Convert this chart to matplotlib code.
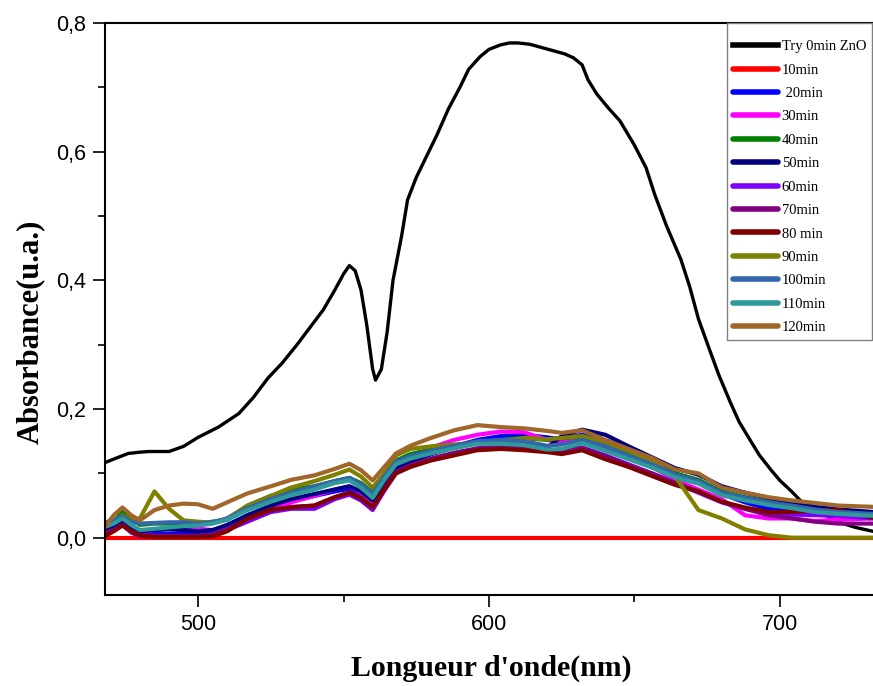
import matplotlib
matplotlib.use("Agg")
import matplotlib.pyplot as plt
from matplotlib.ticker import MultipleLocator, FuncFormatter

# ---------------- data ----------------
wl_black = [467, 472, 476, 480, 483, 487, 490, 495, 500, 507, 514, 519, 524, 529, 534, 539, 543,
            547, 550, 552, 554, 556, 558, 560, 561, 563, 565, 567, 570, 572, 575, 578, 582, 586,
            590, 593, 597, 600, 604, 607, 610, 614, 618, 622, 626, 629, 632, 634, 637, 641, 645,
            650, 654, 657, 661, 666, 669, 672, 676, 679, 683, 686, 690, 693, 697, 700, 704, 707,
            711, 714, 718, 721, 726, 732]
abs_black = [0.115, 0.124, 0.131, 0.133, 0.134, 0.134, 0.134, 0.142, 0.156, 0.172, 0.193, 0.218,
             0.248, 0.272, 0.300, 0.330, 0.354, 0.385, 0.410, 0.423, 0.415, 0.385, 0.330, 0.262,
             0.245, 0.262, 0.320, 0.400, 0.470, 0.525, 0.560, 0.588, 0.625, 0.666, 0.700, 0.728,
             0.748, 0.759, 0.766, 0.769, 0.769, 0.767, 0.762, 0.757, 0.752, 0.746, 0.735, 0.712,
             0.690, 0.668, 0.648, 0.610, 0.575, 0.533, 0.485, 0.432, 0.390, 0.340, 0.290, 0.253,
             0.210, 0.180, 0.150, 0.128, 0.105, 0.089, 0.072, 0.058, 0.046, 0.038, 0.030, 0.023,
             0.016, 0.010]

wl = [467, 471, 474, 477, 480, 485, 490, 495, 500, 505, 510, 517, 525, 532, 540, 547, 552, 556,
      560, 564, 568, 573, 580, 588, 596, 604, 612, 620, 625, 632, 640, 648, 656, 664, 672, 680,
      688, 696, 704, 712, 720, 732]

abs_10 = [0.0] * len(wl)
abs_20 = [0.010, 0.020, 0.028, 0.018, 0.008, 0.006, 0.006, 0.007, 0.008, 0.010, 0.018, 0.035,
          0.048, 0.058, 0.065, 0.072, 0.076, 0.068, 0.055, 0.085, 0.108, 0.118, 0.130, 0.142,
          0.152, 0.158, 0.160, 0.156, 0.153, 0.160, 0.148, 0.135, 0.120, 0.100, 0.088, 0.068,
          0.055, 0.045, 0.042, 0.040, 0.036, 0.033]
abs_30 = [0.008, 0.018, 0.025, 0.012, 0.008, 0.012, 0.015, 0.015, 0.014, 0.012, 0.015, 0.030,
          0.045, 0.055, 0.065, 0.075, 0.080, 0.070, 0.055, 0.090, 0.115, 0.125, 0.140, 0.152,
          0.160, 0.165, 0.164, 0.152, 0.148, 0.152, 0.140, 0.125, 0.110, 0.090, 0.075, 0.060,
          0.035, 0.030, 0.030, 0.026, 0.028, 0.030]
abs_40 = [0.012, 0.025, 0.040, 0.030, 0.020, 0.022, 0.022, 0.023, 0.022, 0.025, 0.028, 0.050,
          0.065, 0.075, 0.080, 0.088, 0.093, 0.085, 0.070, 0.100, 0.120, 0.130, 0.137, 0.143,
          0.148, 0.152, 0.155, 0.152, 0.155, 0.157, 0.145, 0.130, 0.115, 0.100, 0.090, 0.072,
          0.063, 0.056, 0.050, 0.046, 0.042, 0.038]
abs_50 = [0.012, 0.018, 0.025, 0.015, 0.010, 0.012, 0.013, 0.012, 0.010, 0.012, 0.020, 0.035,
          0.050, 0.060, 0.068, 0.075, 0.080, 0.072, 0.058, 0.085, 0.110, 0.120, 0.130, 0.140,
          0.148, 0.150, 0.148, 0.140, 0.158, 0.168, 0.160, 0.142, 0.125, 0.108, 0.098, 0.080,
          0.070, 0.062, 0.055, 0.048, 0.044, 0.040]
abs_60 = [0.005, 0.012, 0.020, 0.008, 0.002, 0.002, 0.002, 0.002, 0.002, 0.005, 0.012, 0.025,
          0.040, 0.045, 0.045, 0.060, 0.067, 0.058, 0.043, 0.073, 0.100, 0.112, 0.122, 0.130,
          0.138, 0.140, 0.140, 0.137, 0.135, 0.140, 0.128, 0.114, 0.100, 0.085, 0.070, 0.055,
          0.045, 0.038, 0.036, 0.035, 0.034, 0.030]
abs_70 = [0.006, 0.012, 0.020, 0.010, 0.004, 0.003, 0.003, 0.003, 0.003, 0.005, 0.013, 0.028,
          0.042, 0.048, 0.050, 0.063, 0.070, 0.060, 0.046, 0.076, 0.102, 0.113, 0.123, 0.132,
          0.139, 0.141, 0.140, 0.136, 0.134, 0.140, 0.127, 0.113, 0.100, 0.085, 0.072, 0.056,
          0.045, 0.035, 0.030, 0.025, 0.022, 0.022]
abs_80 = [0.000, 0.010, 0.019, 0.010, 0.003, 0.001, 0.001, 0.001, 0.001, 0.002, 0.010, 0.030,
          0.044, 0.047, 0.050, 0.063, 0.070, 0.062, 0.048, 0.075, 0.100, 0.110, 0.120, 0.128,
          0.136, 0.138, 0.136, 0.133, 0.130, 0.136, 0.122, 0.110, 0.096, 0.082, 0.072, 0.056,
          0.047, 0.040, 0.040, 0.042, 0.043, 0.031]
abs_90 = [0.016, 0.025, 0.035, 0.028, 0.030, 0.072, 0.045, 0.027, 0.025, 0.023, 0.030, 0.050,
          0.065, 0.078, 0.088, 0.098, 0.106, 0.095, 0.078, 0.100, 0.128, 0.138, 0.142, 0.145,
          0.147, 0.150, 0.155, 0.153, 0.155, 0.158, 0.148, 0.135, 0.120, 0.095, 0.043, 0.030,
          0.013, 0.004, 0.000, 0.000, 0.000, 0.000]
abs_100 = [0.023, 0.027, 0.033, 0.025, 0.022, 0.023, 0.024, 0.024, 0.022, 0.024, 0.030, 0.046,
           0.060, 0.070, 0.080, 0.088, 0.093, 0.083, 0.068, 0.095, 0.118, 0.127, 0.135, 0.143,
           0.150, 0.152, 0.150, 0.143, 0.145, 0.152, 0.142, 0.127, 0.114, 0.098, 0.088, 0.070,
           0.062, 0.055, 0.050, 0.044, 0.040, 0.037]
abs_110 = [0.015, 0.022, 0.030, 0.020, 0.012, 0.014, 0.016, 0.018, 0.019, 0.022, 0.028, 0.043,
           0.056, 0.066, 0.075, 0.085, 0.089, 0.078, 0.062, 0.090, 0.114, 0.123, 0.131, 0.139,
           0.146, 0.146, 0.144, 0.137, 0.138, 0.147, 0.135, 0.122, 0.109, 0.094, 0.084, 0.066,
           0.058, 0.051, 0.046, 0.040, 0.037, 0.034]
abs_120 = [0.011, 0.035, 0.047, 0.035, 0.027, 0.043, 0.050, 0.053, 0.052, 0.045, 0.055, 0.069,
           0.080, 0.090, 0.097, 0.107, 0.115, 0.105, 0.089, 0.110, 0.131, 0.143, 0.155, 0.167,
           0.175, 0.172, 0.170, 0.166, 0.163, 0.167, 0.152, 0.138, 0.124, 0.106, 0.100, 0.078,
           0.070, 0.063, 0.058, 0.054, 0.050, 0.048]

labels = ["Try 0min ZnO", "10min", " 20min", "30min", "40min", "50min", "60min", "70min",
          "80 min", "90min", "100min", "110min", "120min"]
series = [abs_10, abs_20, abs_30, abs_40, abs_50, abs_60, abs_70, abs_80, abs_90, abs_100,
          abs_110, abs_120]
colors = ["#000000", "#FF0000", "#0000FF", "#FF00FF", "#008000", "#000080", "#8000FF",
          "#800080", "#800000", "#808000", "#3366AA", "#2E9A9A", "#A0662A"]

# ---------------- figure ----------------
fig = plt.figure(figsize=(8.73, 6.86), dpi=100)
ax = fig.add_axes([105 / 873, 91 / 686, 1 - 105 / 873, (595 - 23) / 686])

ax.plot(wl_black, abs_black, color=colors[0], lw=2.4, label=labels[0], solid_joinstyle="round")
for s, c, lab in zip(series, colors[1:], labels[1:]):
    ax.plot(wl, s, color=c, lw=3.0, label=lab, solid_joinstyle="round", solid_capstyle="round")

ax.set_xlim(468, 732)
ax.set_ylim(-0.089, 0.8)

ax.xaxis.set_major_locator(MultipleLocator(100))
ax.xaxis.set_minor_locator(MultipleLocator(50))
ax.yaxis.set_major_locator(MultipleLocator(0.2))
ax.yaxis.set_minor_locator(MultipleLocator(0.1))
ax.yaxis.set_major_formatter(FuncFormatter(lambda v, p: f"{v:.1f}".replace(".", ",").replace("-0,0", "0,0")))

ax.tick_params(which="major", direction="out", length=8.5, width=1.2, pad=5,
               labelsize=15.5, top=False, right=False)
ax.tick_params(which="minor", direction="out", length=5, width=1.2, top=False, right=False)
for lab in ax.get_xticklabels() + ax.get_yticklabels():
    lab.set_family("Liberation Sans")

for sp in ["left", "bottom", "top"]:
    ax.spines[sp].set_linewidth(1.5)
ax.spines["right"].set_visible(False)

fig.text(30 / 873, 1 - 332 / 686, "Absorbance(u.a.)", rotation=90, ha="center", va="center",
         family="Liberation Serif", fontweight="bold", fontsize=22)
fig.text(491 / 873, 10 / 686, "Longueur d'onde(nm)", ha="center", va="baseline",
         family="Liberation Serif", fontweight="bold", fontsize=21.5)

leg = ax.legend(loc="upper left", bbox_to_anchor=(727 / 873, 1 - 23 / 686),
                bbox_transform=fig.transFigure, borderaxespad=0,
                prop={"family": "Liberation Serif", "size": 10.5},
                handlelength=3.1, handletextpad=0.25, labelspacing=0.70, borderpad=0.4,
                fancybox=False, framealpha=1, edgecolor="#808080", title=" ",
                title_fontproperties={"size": 1.5})
leg.get_frame().set_linewidth(1.0)
for h in leg.get_lines():
    h.set_linewidth(4)

fig.savefig("out.png", dpi=100)
